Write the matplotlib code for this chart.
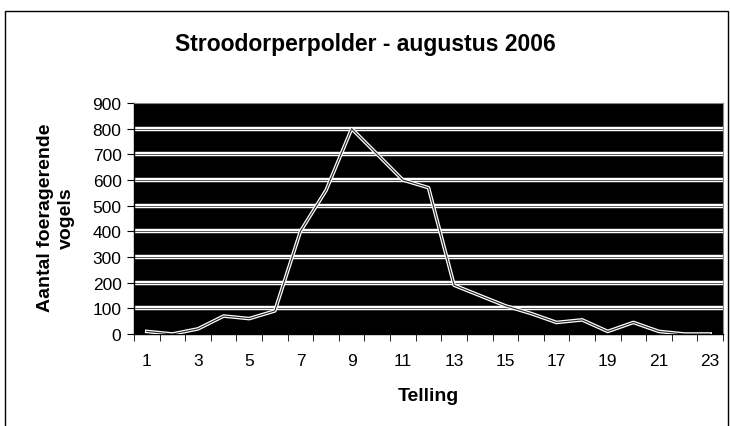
import numpy as np
import matplotlib
matplotlib.use("Agg")
import matplotlib.pyplot as plt
from matplotlib.patches import Rectangle

plt.rcParams['font.family'] = ['Liberation Sans', 'DejaVu Sans']

title = "Stroodorperpolder - augustus 2006"
x_label = "Telling"
y_label = "Aantal foeragerende\nvogels"
tellingen = list(range(1, 24))
vogels = [10, 0, 20, 70, 60, 90, 400, 560, 800, 700, 600, 570, 190, 150, 110,
          80, 45, 55, 10, 45, 10, 0, 0]
y_ticks = list(range(0, 1000, 100))
x_tick_labels = [str(t) if t % 2 == 1 else "" for t in tellingen]

W, H = 730, 427
fig = plt.figure(figsize=(W / 100, H / 100), dpi=100)
fig.patch.set_facecolor('white')

ax = fig.add_axes([134 / W, (H - 335) / H, (723 - 134) / W, (335 - 104) / H])
ax.set_facecolor('black')

for yv in y_ticks[1:-1]:
    ax.axhline(yv, color='white', lw=3.2, zorder=1)
    ax.axhline(yv, color='#555555', lw=0.7, zorder=1.1)

ax.plot(tellingen, vogels, color='white', lw=2.6, zorder=3)
ax.plot(tellingen, vogels, color='#222222', lw=0.8, zorder=3.1)

ax.set_xlim(0.5, 23.5)
ax.set_ylim(0, 900)
ax.set_yticks(y_ticks)
ax.set_yticklabels([str(v) for v in y_ticks])
ax.set_xticks(tellingen)
ax.set_xticklabels(x_tick_labels)
ax.tick_params(axis='x', which='major', length=0, pad=14, labelsize=12.5)
ax.set_xticks(np.arange(0.5, 24.0, 1.0), minor=True)
ax.tick_params(axis='x', which='minor', length=5, direction='out', color='black')
ax.tick_params(axis='y', length=5, direction='out', labelsize=12.5, pad=4)

for s in ['left', 'bottom']:
    ax.spines[s].set_color('black')
    ax.spines[s].set_linewidth(1.0)
for s in ['top', 'right']:
    ax.spines[s].set_color('#888888')
    ax.spines[s].set_linewidth(0.8)

fig.text(365 / W, 1 - 45 / H, title, ha='center', va='center',
         fontsize=16.5, fontweight='bold')
fig.text(428 / W, 1 - 397 / H, x_label, ha='center', va='center',
         fontsize=14, fontweight='bold')
fig.text(56 / W, 1 - 218 / H, y_label, ha='center', va='center',
         fontsize=14, fontweight='bold', rotation=90, linespacing=1.3)

fig.add_artist(Rectangle((5 / W, -0.05), (723) / W, 1 - 12 / H + 0.05,
                         transform=fig.transFigure, fill=False,
                         edgecolor='black', lw=1.0))

fig.savefig("out.png", dpi=100)
